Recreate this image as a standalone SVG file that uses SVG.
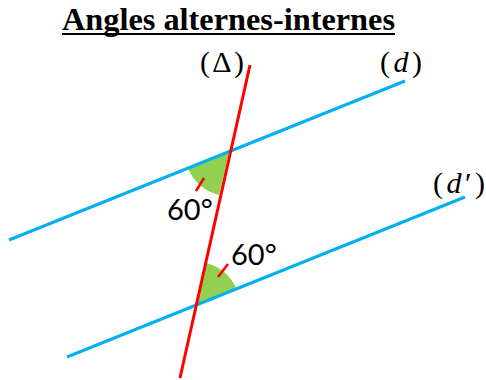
<svg xmlns="http://www.w3.org/2000/svg" width="486" height="380" viewBox="0 0 486 380">
<style>
.title{font-family:"Liberation Serif",serif;font-weight:bold;font-size:31px;fill:#000}
.lab{font-family:"Liberation Serif","DejaVu Serif",serif;font-size:30px;fill:#000}
.ang{font-family:Lato,"Liberation Sans",sans-serif;font-size:29px;fill:#000}
.blue{stroke:#00b0f0;stroke-width:3;fill:none}
.red{stroke:#ff0000;stroke-width:3;fill:none}
.sector{fill:#92d050;stroke:none}
.tick{stroke:#ff0000;stroke-width:2.5}
</style>
<rect width="486" height="380" fill="#fff"/>
<g id="title">
<text class="title" x="62" y="30" textLength="333" lengthAdjust="spacingAndGlyphs">Angles alternes-internes</text>
<line x1="62" y1="34" x2="395" y2="34" stroke="#000" stroke-width="2"/>
</g>
<g id="sectors">
<path class="sector" d="M229,152 L188.1,168.4 A44,44 0 0 0 219.2,194.9 Z"/>
<path class="sector" d="M196,306 L205.8,263.1 A44,44 0 0 1 236.8,289.6 Z"/>
</g>
<g id="connectors">
<line id="d" class="blue" x1="9" y1="240" x2="405" y2="81"/>
<line id="dprime" class="blue" x1="67" y1="357" x2="465" y2="197"/>
<line id="delta" class="red" x1="250" y1="65" x2="180" y2="378"/>
<line class="tick" x1="196" y1="191" x2="204" y2="178"/>
<line class="tick" x1="218" y1="277" x2="228" y2="264"/>
</g>
<g id="labels">
<text class="lab" x="200" y="72" textLength="44">(Δ)</text>
<text class="lab" x="380" y="72" textLength="42">(<tspan font-style="italic">d</tspan>)</text>
<text class="lab" x="433" y="193" textLength="52">(<tspan font-style="italic">d</tspan>′)</text>
<text class="ang" x="167" y="220">60°</text>
<text class="ang" x="231" y="265">60°</text>
</g>
</svg>
